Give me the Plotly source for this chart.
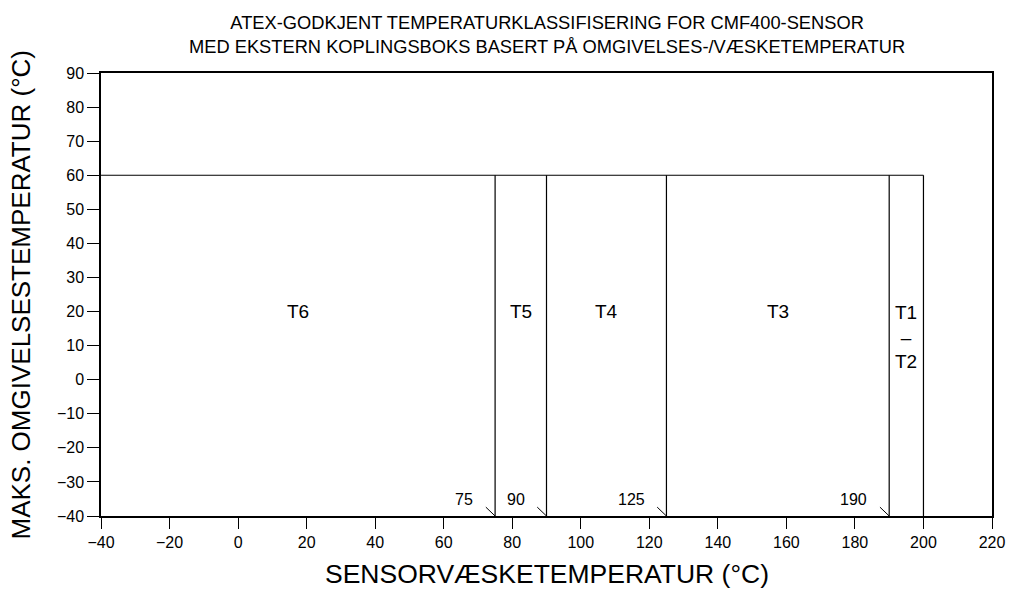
import plotly.graph_objects as go

# Data
boundaries = [75, 90, 125, 190, 200]          # sensor fluid temperature limits (°C)
boundary_labels = ["75", "90", "125", "190"]  # labelled limits
max_ambient = 60                              # max ambient temperature (°C)
x_min, x_max = -40, 220
y_min, y_max = -40, 90
classes = ["T6", "T5", "T4", "T3", "T1<br>–<br>T2"]
class_left = [-40, 75, 90, 125, 190]
class_right = [75, 90, 125, 190, 200]
class_label_y = [20, 20, 20, 20, 20]
x_ticks = list(range(-40, 221, 20))
y_ticks = list(range(-40, 91, 10))

fig = go.Figure()

# horizontal limit at 60 °C
fig.add_trace(go.Scatter(x=[x_min, boundaries[-1]], y=[max_ambient, max_ambient],
                         mode="lines", line=dict(color="black", width=1.2),
                         hoverinfo="skip", showlegend=False))

# vertical boundaries
vx, vy = [], []
for b in boundaries:
    vx += [b, b, None]
    vy += [y_min, max_ambient, None]
fig.add_trace(go.Scatter(x=vx, y=vy, mode="lines",
                         line=dict(color="black", width=1.2),
                         hoverinfo="skip", showlegend=False))

# leader lines for boundary labels
lx, ly = [], []
for b in boundaries[:4]:
    lx += [b - 2.7, b, None]
    ly += [-37.4, y_min, None]
fig.add_trace(go.Scatter(x=lx, y=ly, mode="lines",
                         line=dict(color="black", width=1),
                         hoverinfo="skip", showlegend=False))

tick_font = dict(family="Liberation Sans", size=16, color="black")

# boundary labels
for b, t in zip(boundaries[:4], boundary_labels):
    fig.add_annotation(x=b - 5.8, y=-35.3, text=t, showarrow=False,
                       xanchor="right", yanchor="middle", font=tick_font)

# class labels
for name, l, r, yy in zip(classes, class_left, class_right, class_label_y):
    multi = "<br>" in name
    fig.add_annotation(x=(l + r) / 2, y=yy, text=name, showarrow=False,
                       xanchor="center", yanchor="top" if multi else "middle",
                       yshift=12 if multi else 0,
                       font=dict(family="Liberation Sans", size=19, color="black"))

# title and axis titles as annotations for exact placement
fig.add_annotation(xref="paper", yref="paper", x=0.5, y=1.142, yanchor="top",
                   text="ATEX-GODKJENT TEMPERATURKLASSIFISERING FOR CMF400-SENSOR<br>"
                        "MED EKSTERN KOPLINGSBOKS BASERT PÅ OMGIVELSES-/VÆSKETEMPERATUR",
                   showarrow=False,
                   font=dict(family="Liberation Sans", size=18.3, color="black"))
fig.add_annotation(xref="paper", yref="paper", x=0.5, y=-0.131, yanchor="middle",
                   text="SENSORVÆSKETEMPERATUR (°C)", showarrow=False,
                   font=dict(family="Liberation Sans", size=26.5, color="black"))
fig.add_annotation(xref="paper", yref="paper", x=-0.0909, y=0.5, xanchor="center",
                   yanchor="middle",
                   textangle=-90, text="MAKS. OMGIVELSESTEMPERATUR (°C)", showarrow=False,
                   font=dict(family="Liberation Sans", size=26, color="black"))

fig.update_layout(
    width=1011, height=594,
    margin=dict(l=101, r=19, t=73, b=78, autoexpand=False),
    plot_bgcolor="white", paper_bgcolor="white",
    xaxis=dict(range=[x_min, x_max], tickvals=x_ticks, showgrid=False, zeroline=False,
               showline=True, linecolor="black", linewidth=1.5, mirror=True,
               ticks="outside", ticklen=11, tickwidth=1.2, tickcolor="black",
               tickfont=tick_font, automargin=False),
    yaxis=dict(range=[y_min, y_max], tickvals=y_ticks, showgrid=False, zeroline=False,
               showline=True, linecolor="black", linewidth=1.5, mirror=True,
               ticks="outside", ticklen=12, tickwidth=1.2, tickcolor="black",
               tickfont=tick_font, automargin=False),
)

fig.write_html(
    "out.html",
    config={"displayModeBar": False},
    post_script="document.body.style.margin='0';"
                "document.documentElement.style.overflow='hidden';",
)
